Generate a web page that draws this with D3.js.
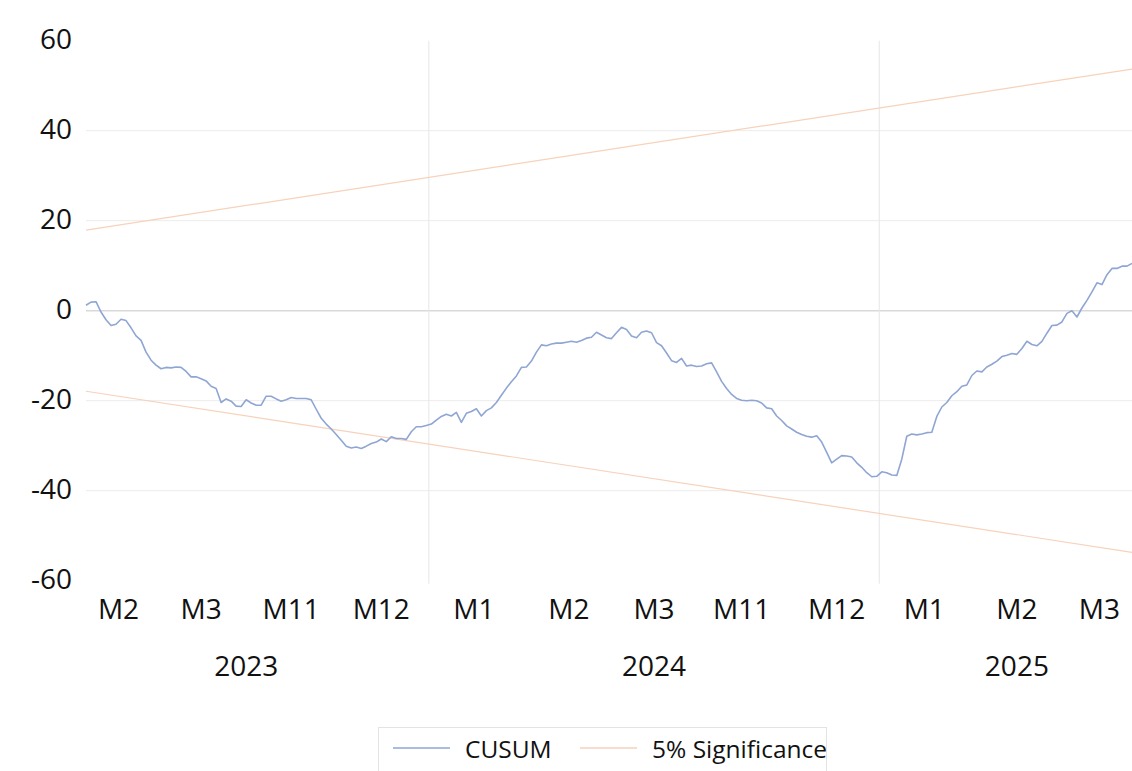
<!DOCTYPE html>
<html>
<head>
<meta charset="utf-8">
<script src="https://cdn.jsdelivr.net/npm/d3@7"></script>
<style>
  body { margin: 0; background: #fff; }
  svg { display: block; font-family: "Open Sans", "Liberation Sans", sans-serif; }
</style>
</head>
<body>
<svg id="chart" width="1132" height="771"></svg>
<script>
// month categories (outer level = year)
var monthLabels = ["M2","M3","M11","M12","M1","M2","M3","M11","M12","M1","M2","M3"];
var monthCounts = [14,19,17,19, 18,20,14,21,17, 18,19,14];
var yearLabels = ["2023","2024","2025"];
var monthsPerYear = [4,5,3];

var yTicks = [-60,-40,-20,0,20,40,60];

// CUSUM values
var cusum = [
  1.2, 1.9, 2.0, -0.3, -2.0, -3.3, -3.0, -1.9, -2.2, -3.8,
  -5.6, -6.6, -9.2, -11.0, -12.1, -12.9, -12.6, -12.7, -12.5, -12.6,
  -13.5, -14.7, -14.7, -15.1, -15.6, -16.8, -17.3, -20.4, -19.6, -20.1,
  -21.2, -21.3, -19.8, -20.5, -21.0, -21.0, -19.0, -19.0, -19.6, -20.1,
  -19.8, -19.3, -19.5, -19.5, -19.5, -19.8, -21.9, -23.9, -25.2, -26.3,
  -27.5, -28.8, -30.1, -30.5, -30.3, -30.6, -30.1, -29.5, -29.2, -28.5,
  -29.1, -28.0, -28.4, -28.4, -28.6, -26.9, -25.8, -25.8, -25.5, -25.2,
  -24.3, -23.5, -23.0, -23.4, -22.6, -24.8, -22.8, -22.4, -21.8, -23.4,
  -22.2, -21.6, -20.4, -18.8, -17.2, -15.8, -14.5, -12.6, -12.5, -11.2,
  -9.2, -7.6, -7.8, -7.4, -7.2, -7.2, -7.0, -6.8, -7.0, -6.6,
  -6.1, -5.9, -4.8, -5.4, -6.0, -6.2, -4.9, -3.7, -4.2, -5.6,
  -6.0, -4.8, -4.5, -4.9, -7.1, -7.8, -9.4, -11.1, -11.5, -10.6,
  -12.3, -12.1, -12.4, -12.3, -11.8, -11.6, -13.6, -15.7, -17.3, -18.6,
  -19.5, -19.9, -20.0, -19.9, -20.0, -20.5, -21.6, -21.8, -23.4, -24.4,
  -25.6, -26.3, -27.0, -27.5, -27.9, -28.1, -27.8, -29.2, -31.5, -33.8,
  -33.0, -32.2, -32.3, -32.5, -33.8, -34.8, -36.0, -36.9, -36.8, -35.8,
  -36.0, -36.5, -36.6, -33.0, -27.9, -27.4, -27.6, -27.4, -27.1, -27.0,
  -23.5, -21.4, -20.4, -18.9, -18.0, -16.8, -16.5, -14.4, -13.4, -13.6,
  -12.5, -11.9, -11.2, -10.2, -9.9, -9.5, -9.7, -8.4, -6.8, -7.5,
  -7.8, -6.8, -5.0, -3.3, -3.2, -2.5, -0.6, 0.0, -1.4, 0.6,
  2.3, 4.2, 6.2, 5.8, 8.0, 9.4, 9.4, 9.9, 9.9, 10.5
];

// 5% significance bounds (straight lines, first and last point)
var sigUpper = [17.9, 53.7];
var sigLower = [-17.9, -53.7];

function main(){
  var svg = d3.select("#chart");
  var plotLeft = 86, plotRight = 1132, plotTop = 40.7, plotBottom = 580.7;
  var n = cusum.length;
  var sigColor = "#f7d2bb", cusumColor = "#8fa6d4";

  var x = d3.scaleLinear().domain([0, n - 1]).range([plotLeft, plotRight]);
  var y = d3.scaleLinear().domain([-60, 60]).range([plotBottom, plotTop]);

  // horizontal gridlines
  svg.append("g").selectAll("line")
    .data(yTicks.filter(function(d){ return d > -60 && d < 60; }))
    .enter().append("line")
    .attr("x1", plotLeft).attr("x2", plotRight)
    .attr("y1", function(d){ return y(d); })
    .attr("y2", function(d){ return y(d); })
    .attr("stroke", function(d){ return d === 0 ? "#d9d9d9" : "#ececec"; })
    .attr("stroke-width", function(d){ return d === 0 ? 1.5 : 1; });

  // month spans
  var months = [], start = 0;
  monthCounts.forEach(function(c, i){
    months.push({label: monthLabels[i], first: start, last: start + c - 1});
    start += c;
  });

  // years
  var years = [], m = 0;
  monthsPerYear.forEach(function(k, i){
    var ms = months.slice(m, m + k);
    var mid = k % 2 === 1 ? (ms[(k-1)/2].first + ms[(k-1)/2].last) / 2
      : ((ms[k/2-1].first + ms[k/2-1].last) / 2 + (ms[k/2].first + ms[k/2].last) / 2) / 2;
    years.push({label: yearLabels[i], first: ms[0].first, last: ms[k-1].last, mid: mid});
    m += k;
  });

  // year separators
  svg.append("g").selectAll("line")
    .data(years.slice(1))
    .enter().append("line")
    .attr("x1", function(d){ return x(d.first - 0.5); })
    .attr("x2", function(d){ return x(d.first - 0.5); })
    .attr("y1", plotTop).attr("y2", plotBottom + 3)
    .attr("stroke", "#e6e6e6").attr("stroke-width", 1);

  // significance lines
  [sigUpper, sigLower].forEach(function(s){
    svg.append("path")
      .datum(s)
      .attr("fill", "none")
      .attr("stroke", sigColor)
      .attr("stroke-width", 1.2)
      .attr("d", d3.line()
        .x(function(d, i){ return x(i * (n - 1)); })
        .y(function(d){ return y(d); }));
  });

  // CUSUM line
  svg.append("path")
    .datum(cusum)
    .attr("fill", "none")
    .attr("stroke", cusumColor)
    .attr("stroke-width", 1.6)
    .attr("stroke-linejoin", "round")
    .attr("d", d3.line()
      .x(function(d, i){ return x(i); })
      .y(function(d){ return y(d); }));

  // y tick labels
  svg.append("g").selectAll("text")
    .data(yTicks)
    .enter().append("text")
    .attr("x", 72)
    .attr("y", function(d){ return y(d) - 3; })
    .attr("text-anchor", "end")
    .attr("dominant-baseline", "central")
    .attr("font-size", "28px")
    .attr("fill", "#111")
    .text(function(d){ return d; });

  // month labels
  svg.append("g").selectAll("text")
    .data(months)
    .enter().append("text")
    .attr("x", function(d){ return x((d.first + d.last) / 2); })
    .attr("y", 608)
    .attr("text-anchor", "middle")
    .attr("dominant-baseline", "central")
    .attr("font-size", "28px")
    .attr("fill", "#111")
    .text(function(d){ return d.label; });

  // year labels
  svg.append("g").selectAll("text")
    .data(years)
    .enter().append("text")
    .attr("x", function(d){ return x(d.mid); })
    .attr("y", 665)
    .attr("text-anchor", "middle")
    .attr("dominant-baseline", "central")
    .attr("font-size", "28px")
    .attr("fill", "#111")
    .text(function(d){ return d.label; });

  // legend
  var lg = svg.append("g");
  lg.append("rect")
    .attr("x", 378.5).attr("y", 727.5)
    .attr("width", 448).attr("height", 60)
    .attr("fill", "#fff").attr("stroke", "#e3e3e3");
  var items = [
    {label: "CUSUM", color: cusumColor, x0: 393},
    {label: "5% Significance", color: sigColor, x0: 580}
  ];
  items.forEach(function(it){
    lg.append("line")
      .attr("x1", it.x0).attr("x2", it.x0 + 57)
      .attr("y1", 748).attr("y2", 748)
      .attr("stroke", it.color).attr("stroke-width", 1.5);
    lg.append("text")
      .attr("x", it.x0 + 72).attr("y", 748)
      .attr("dominant-baseline", "central")
      .attr("font-size", "24.5px")
      .attr("fill", "#111")
      .text(it.label);
  });
}

main();
</script>
</body>
</html>
